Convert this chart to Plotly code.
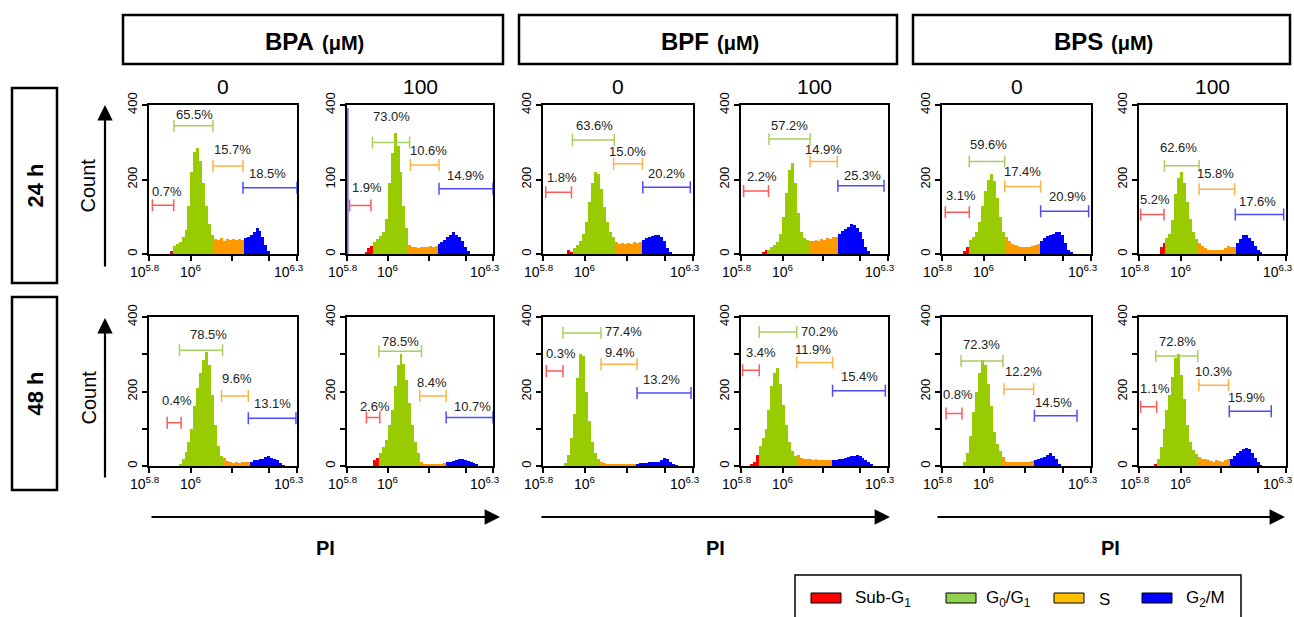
import plotly.graph_objects as go

W, H = 1294, 617
FONT = "Arial, 'Liberation Sans', Helvetica, sans-serif"

# ---------------- data ----------------
COMPOUNDS = ["BPA", "BPF", "BPS"]
DOSES = ["0", "100"]
TIMES = ["24 h", "48 h"]
PHASES = ["Sub-G<sub>1</sub>", "G<sub>0</sub>/G<sub>1</sub>", "S", "G<sub>2</sub>/M"]

# PI channel bins (0-100 display units spanning 10^5.8 .. 10^6.3)
BIN_CENTERS = list(range(1, 100, 2))
X_TICK_VALS = [0, 28.3, 55.9, 81.2, 100]
X_LABEL_VALS = [0, 28.3, 100]
X_LABEL_TEXT = ["10<sup>5.8</sup>", "10<sup>6</sup>", "10<sup>6.3</sup>"]

# histogram counts per bin (50 bins each)
BPA_0_24 = [0,0,0,0,0,0,0,8,22,28, 33,45,65,130,220,275,285,250,190,130,
            80,50,40,38,42,36,40,38,40,37, 40,38,42,45,50,58,70,62,45,25,
            8,0,0,0,0,0,0,0,0,0]
BPA_100_24 = [0,0,0,0,0,0,5,15,22,33, 40,48,60,95,190,270,325,290,220,130,
              70,25,18,20,17,20,18,20,22,18, 22,28,32,38,45,50,58,52,45,35,
              20,8,0,0,0,0,0,0,0,0]
BPF_0_24 = [0,0,0,0,0,0,0,0,10,5, 15,25,35,55,85,140,190,220,215,175,
            125,85,58,45,32,28,30,27,30,28, 32,30,32,38,42,45,48,52,50,45,
            35,15,3,0,0,0,0,0,0,0]
BPF_100_24 = [0,0,0,0,0,0,0,5,12,12, 18,25,32,55,100,165,225,245,190,110,
              60,42,38,35,36,38,35,40,38,42, 40,45,45,55,62,68,72,80,78,70,
              58,40,20,8,0,0,0,0,0,0]
BPS_0_24 = [0,0,0,0,0,0,0,8,20,38, 45,60,85,130,170,200,215,195,150,100,
            60,45,35,28,25,22,20,18,20,18, 22,25,28,35,42,48,52,55,58,60,
            50,30,12,3,0,0,0,0,0,0]
BPS_100_24 = [0,0,0,0,0,0,0,20,30,42, 55,90,160,205,220,190,140,95,60,40,
              30,22,15,12,10,10,10,12,10,15, 22,18,20,30,40,50,52,42,35,22,
              10,3,0,0,0,0,0,0,0,0]
BPA_0_48 = [0,0,0,0,0,0,0,0,0,0, 5,18,38,65,100,160,210,250,285,305,
            270,190,110,55,28,22,14,10,8,10, 8,10,10,10,12,15,16,18,20,25,
            28,22,20,15,8,2,0,0,0,0]
BPA_100_48 = [0,0,0,0,0,0,0,0,0,15, 22,35,50,70,110,150,215,270,300,275,
              230,170,110,65,35,12,5,3,5,5, 6,5,6,8,10,12,14,15,18,20,
              16,14,12,8,3,0,0,0,0,0]
BPF_0_48 = [0,0,0,0,0,0,0,8,30,75, 140,235,300,295,200,120,65,35,20,12,
            8,6,5,4,4,4,5,5,4,5, 5,6,7,8,8,10,10,12,12,15,
            22,18,12,6,2,0,0,0,0,0]
BPF_100_48 = [0,0,0,3,10,30,55,75,100,150, 215,250,262,220,165,110,65,40,28,30,
              22,20,18,18,16,18,16,15,16,15, 15,15,16,18,20,22,24,26,28,30,
              26,22,16,10,6,0,0,0,0,0]
BPS_0_48 = [0,0,0,0,0,0,0,12,35,80, 145,200,250,285,270,220,160,90,58,40,
            25,12,10,12,10,12,10,12,11,12, 14,15,18,22,25,30,36,28,18,6,
            0,0,0,0,0,0,0,0,0,0]
BPS_100_48 = [0,0,0,0,0,4,18,50,100,150, 190,240,290,300,245,180,110,65,42,32,
              25,20,18,15,13,12,15,13,12,15, 18,20,28,35,40,45,48,45,35,22,
              10,2,0,0,0,0,0,0,0,0]

HISTS = {
    ("BPA", "0", "24 h"): BPA_0_24, ("BPA", "100", "24 h"): BPA_100_24,
    ("BPF", "0", "24 h"): BPF_0_24, ("BPF", "100", "24 h"): BPF_100_24,
    ("BPS", "0", "24 h"): BPS_0_24, ("BPS", "100", "24 h"): BPS_100_24,
    ("BPA", "0", "48 h"): BPA_0_48, ("BPA", "100", "48 h"): BPA_100_48,
    ("BPF", "0", "48 h"): BPF_0_48, ("BPF", "100", "48 h"): BPF_100_48,
    ("BPS", "0", "48 h"): BPS_0_48, ("BPS", "100", "48 h"): BPS_100_48,
}

# gates per panel: [Sub-G1, G0/G1, S, G2/M]
GATE_X0 = {
    ("BPA", "0", "24 h"): [2.3, 16.9, 43.2, 63.5], ("BPA", "100", "24 h"): [1.8, 17.4, 43.4, 63.0],
    ("BPF", "0", "24 h"): [1.8, 19.6, 47.1, 66.5], ("BPF", "100", "24 h"): [1.8, 19.0, 47.0, 65.9],
    ("BPS", "0", "24 h"): [2.2, 18.3, 42.1, 66.2], ("BPS", "100", "24 h"): [1.1, 17.3, 40.9, 65.5],
    ("BPA", "0", "48 h"): [12.3, 20.6, 49.0, 67.1], ("BPA", "100", "48 h"): [13.3, 21.8, 49.9, 67.9],
    ("BPF", "0", "48 h"): [2.2, 13.3, 38.7, 62.7], ("BPF", "100", "48 h"): [1.1, 12.4, 37.9, 62.3],
    ("BPS", "0", "48 h"): [2.7, 12.8, 41.6, 62.0], ("BPS", "100", "48 h"): [1.1, 11.4, 40.7, 61.4],
}
GATE_X1 = {
    ("BPA", "0", "24 h"): [16.7, 43.2, 63.5, 100], ("BPA", "100", "24 h"): [16.4, 42.9, 63.0, 100],
    ("BPF", "0", "24 h"): [19.0, 47.5, 66.3, 98.2], ("BPF", "100", "24 h"): [18.7, 47.0, 65.5, 97.3],
    ("BPS", "0", "24 h"): [18.3, 42.1, 66.2, 98.4], ("BPS", "100", "24 h"): [17.0, 40.9, 65.0, 98.4],
    ("BPA", "0", "48 h"): [21.7, 49.7, 67.1, 99.3], ("BPA", "100", "48 h"): [22.5, 51.0, 67.9, 100],
    ("BPF", "0", "48 h"): [13.3, 38.7, 62.7, 98.7], ("BPF", "100", "48 h"): [12.4, 37.9, 62.3, 98.2],
    ("BPS", "0", "48 h"): [13.4, 40.9, 61.5, 90.6], ("BPS", "100", "48 h"): [12.0, 40.0, 60.9, 90.0],
}
GATE_Y = {
    ("BPA", "0", "24 h"): [131, 344, 236, 178], ("BPA", "100", "24 h"): [130, 299, 239, 175],
    ("BPF", "0", "24 h"): [166, 306, 242, 179], ("BPF", "100", "24 h"): [169, 309, 248, 183],
    ("BPS", "0", "24 h"): [112, 248, 181, 115], ("BPS", "100", "24 h"): [106, 237, 174, 106],
    ("BPA", "0", "48 h"): [116, 311, 188, 128], ("BPA", "100", "48 h"): [130, 308, 188, 130],
    ("BPF", "0", "48 h"): [255, 357, 273, 196], ("BPF", "100", "48 h"): [257, 360, 278, 202],
    ("BPS", "0", "48 h"): [141, 282, 206, 135], ("BPS", "100", "48 h"): [159, 295, 217, 147],
}
GATE_PCT = {
    ("BPA", "0", "24 h"): ["0.7%", "65.5%", "15.7%", "18.5%"], ("BPA", "100", "24 h"): ["1.9%", "73.0%", "10.6%", "14.9%"],
    ("BPF", "0", "24 h"): ["1.8%", "63.6%", "15.0%", "20.2%"], ("BPF", "100", "24 h"): ["2.2%", "57.2%", "14.9%", "25.3%"],
    ("BPS", "0", "24 h"): ["3.1%", "59.6%", "17.4%", "20.9%"], ("BPS", "100", "24 h"): ["5.2%", "62.6%", "15.8%", "17.6%"],
    ("BPA", "0", "48 h"): ["0.4%", "78.5%", "9.6%", "13.1%"], ("BPA", "100", "48 h"): ["2.6%", "78.5%", "8.4%", "10.7%"],
    ("BPF", "0", "48 h"): ["0.3%", "77.4%", "9.4%", "13.2%"], ("BPF", "100", "48 h"): ["3.4%", "70.2%", "11.9%", "15.4%"],
    ("BPS", "0", "48 h"): ["0.8%", "72.3%", "12.2%", "14.5%"], ("BPS", "100", "48 h"): ["1.1%", "72.8%", "10.3%", "15.9%"],
}
LABEL_X = {
    ("BPA", "0", "24 h"): [12.2, 30.9, 56.3, 80.4], ("BPA", "100", "24 h"): [13.7, 30.8, 55.9, 81.5],
    ("BPF", "0", "24 h"): [12.7, 34.2, 56.3, 82.6], ("BPF", "100", "24 h"): [14.2, 33.0, 56.4, 82.6],
    ("BPS", "0", "24 h"): [12.8, 30.9, 53.7, 83.9], ("BPS", "100", "24 h"): [10.9, 26.8, 52.3, 80.9],
    ("BPA", "0", "48 h"): [18.8, 40.3, 59.7, 83.7], ("BPA", "100", "48 h"): [18.9, 36.4, 58.2, 85.8],
    ("BPF", "0", "48 h"): [11.7, 53.7, 51.0, 79.1], ("BPF", "100", "48 h"): [13.8, 53.7, 49.2, 80.4],
    ("BPS", "0", "48 h"): [10.7, 26.2, 54.4, 74.9], ("BPS", "100", "48 h"): [10.9, 26.4, 50.7, 73.4],
}
LABEL_Y = {
    ("BPA", "0", "24 h"): [167, 375, 281, 217], ("BPA", "100", "24 h"): [178, 369, 277, 212],
    ("BPF", "0", "24 h"): [205, 346, 275, 215], ("BPF", "100", "24 h"): [208, 346, 281, 212],
    ("BPS", "0", "24 h"): [158, 293, 221, 154], ("BPS", "100", "24 h"): [145, 286, 217, 142],
    ("BPA", "0", "48 h"): [175, 353, 235, 168], ("BPA", "100", "48 h"): [161, 333, 223, 159],
    ("BPF", "0", "48 h"): [302, 362, 304, 232], ("BPF", "100", "48 h"): [304, 362, 313, 241],
    ("BPS", "0", "48 h"): [192, 327, 255, 170], ("BPS", "100", "48 h"): [208, 333, 255, 184],
}
Y_TICK_VALS = {"24 h": [0, 200, 400], "48 h": [0, 100, 200, 300, 400]}
Y_TICK_TEXT = {"24 h": ["0", "200", "400"], "48 h": ["0", "", "200", "", "400"]}
Y_TICK_TEXT_OVERRIDE = {("BPA", "100", "24 h"): ["0", "100", "400"]}

# ---------------- styles ----------------
HIST_COLORS = ["#ff0000", "#99cc00", "#ff9900", "#0000ff"]
GATE_COLORS = ["#ff5a5a", "#a8d060", "#ffb347", "#4d4dff"]
LEGEND_COLORS = ["#ff0000", "#92d050", "#ffc000", "#0000ff"]

COL_LEFT = [149, 347, 543, 741, 942, 1139]
COL_RIGHT = [297, 493, 693, 888, 1091, 1286]
ROW_TOP = [105, 317]
ROW_BOTTOM = [254, 466]
X_LABEL_SHIFT = [-4, 0, -8]


def px(x):
    return x / W


def py(y):
    return 1 - y / H


def paper_text(x, y, text, size, angle=0, xanchor="center", bold=False):
    return dict(x=px(x), y=py(y), xref="paper", yref="paper",
                text=f"<b>{text}</b>" if bold else text, textangle=angle,
                showarrow=False, xanchor=xanchor, yanchor="middle",
                font=dict(size=size, color="black", family=FONT))


fig = go.Figure()
layout = {}
annotations = []
shapes = []

idx = 0
for r, t in enumerate(TIMES):
    for c in range(6):
        idx += 1
        comp = COMPOUNDS[c // 2]
        dose = DOSES[c % 2]
        key = (comp, dose, t)
        sfx = "" if idx == 1 else str(idx)
        xa, ya = "x" + sfx, "y" + sfx

        x0s, x1s = GATE_X0[key], GATE_X1[key]
        colors = []
        for cx in BIN_CENTERS:
            if cx < x0s[1]:
                colors.append(HIST_COLORS[0])
            elif cx < x1s[1]:
                colors.append(HIST_COLORS[1])
            elif cx < x0s[3]:
                colors.append(HIST_COLORS[2])
            else:
                colors.append(HIST_COLORS[3])
        fig.add_trace(go.Bar(x=BIN_CENTERS, y=HISTS[key], width=2,
                             marker=dict(color=colors, line=dict(width=0)),
                             xaxis=xa, yaxis=ya, showlegend=False, hoverinfo="skip"))

        for g in range(4):
            xc = (x0s[g] + x1s[g]) / 2
            fig.add_trace(go.Scatter(
                x=[xc], y=[GATE_Y[key][g]], mode="markers",
                marker=dict(size=1, color="rgba(0,0,0,0)"),
                error_x=dict(type="data", array=[(x1s[g] - x0s[g]) / 2], symmetric=True,
                             color=GATE_COLORS[g], thickness=1.5, width=6),
                cliponaxis=False, xaxis=xa, yaxis=ya, showlegend=False, hoverinfo="skip"))
            annotations.append(dict(x=LABEL_X[key][g], y=LABEL_Y[key][g], xref=xa, yref=ya,
                                    text=GATE_PCT[key][g], showarrow=False,
                                    xanchor="center", yanchor="middle",
                                    font=dict(size=13, color="#222222", family=FONT)))

        # x tick labels (placed like the original, ends pulled inward)
        for j, xv in enumerate(X_LABEL_VALS):
            annotations.append(dict(x=xv, y=0, xref=xa, yref=ya, yshift=-17,
                                    xshift=X_LABEL_SHIFT[j], text=X_LABEL_TEXT[j],
                                    showarrow=False, xanchor="center", yanchor="middle",
                                    font=dict(size=14, color="black", family=FONT)))

        # stray acquisition trace along the left edge of the BPA 100 / 24 h panel
        if key == ("BPA", "100", "24 h"):
            shapes.append(dict(type="line", xref=xa, yref=ya, x0=0.6, x1=0.6, y0=0, y1=392,
                               line=dict(color="#3a3aff", width=1.2)))

        ytext = Y_TICK_TEXT_OVERRIDE.get(key, Y_TICK_TEXT[t])
        layout["xaxis" + sfx] = dict(
            domain=[px(COL_LEFT[c]), px(COL_RIGHT[c])], anchor=ya, range=[0, 100],
            showline=True, linecolor="black", linewidth=2, mirror=True,
            ticks="outside", ticklen=5, tickwidth=2, tickcolor="black",
            tickmode="array", tickvals=X_TICK_VALS, ticktext=[""] * len(X_TICK_VALS),
            showgrid=False, zeroline=False, fixedrange=True, automargin=False)
        layout["yaxis" + sfx] = dict(
            domain=[py(ROW_BOTTOM[r]), py(ROW_TOP[r])], anchor=xa, range=[0, 400],
            showline=True, linecolor="black", linewidth=2, mirror=True,
            ticks="outside", ticklen=5, tickwidth=2, tickcolor="black",
            tickmode="array", tickvals=Y_TICK_VALS[t], ticktext=ytext, tickangle=-90,
            tickfont=dict(size=13, color="black", family=FONT),
            showgrid=False, zeroline=False, fixedrange=True, automargin=False)

# header boxes
HEADER_BOX = [(123, 503), (519, 897), (913, 1290)]
for i, comp in enumerate(COMPOUNDS):
    bx0, bx1 = HEADER_BOX[i]
    cx = (bx0 + bx1) / 2
    shapes.append(dict(type="rect", xref="paper", yref="paper", x0=px(bx0), x1=px(bx1),
                       y0=py(64), y1=py(15), line=dict(color="black", width=2.5)))
    annotations.append(paper_text(cx + 3, 42, comp, 24, xanchor="right", bold=True))
    annotations.append(paper_text(cx + 7, 43, "(μM)", 20, xanchor="left", bold=True))

# dose labels
for c in range(6):
    annotations.append(paper_text((COL_LEFT[c] + COL_RIGHT[c]) / 2, 86, DOSES[c % 2], 21))

# row boxes & count arrows
ROW_BOX = [(88, 283), (297, 490)]
ARROW_Y = [(105, 268), (318, 479)]
for r, t in enumerate(TIMES):
    by0, by1 = ROW_BOX[r]
    shapes.append(dict(type="rect", xref="paper", yref="paper", x0=px(12), x1=px(57),
                       y0=py(by1), y1=py(by0), line=dict(color="black", width=2.5)))
    annotations.append(paper_text(35, (by0 + by1) / 2, t, 22, angle=-90, bold=True))
    ty, tb = ARROW_Y[r]
    annotations.append(dict(x=px(105), y=py(ty), xref="paper", yref="paper", text="",
                            showarrow=True, ax=0, ay=tb - ty,
                            arrowhead=2, arrowsize=1.4, arrowwidth=2.2, arrowcolor="black"))
    annotations.append(paper_text(88, (ROW_TOP[r] + ROW_BOTTOM[r]) / 2 + 6, "Count", 20, angle=-90))

# PI arrows
PI_ARROW = [(150, 500), (540, 890), (936, 1285)]
for i in range(3):
    a0, a1 = PI_ARROW[i]
    annotations.append(dict(x=px(a1), y=py(517), xref="paper", yref="paper", text="",
                            showarrow=True, ax=-(a1 - a0), ay=0,
                            arrowhead=2, arrowsize=1.4, arrowwidth=2.2, arrowcolor="black"))
    annotations.append(paper_text((a0 + a1) / 2, 548, "PI", 20, bold=True))

# legend box
shapes.append(dict(type="rect", xref="paper", yref="paper", x0=px(795), x1=px(1241),
                   y0=py(640), y1=py(575), line=dict(color="black", width=1.5)))
SWATCH_X = [811, 946, 1054, 1142]
TEXT_X = [853, 984, 1097, 1184]
for i in range(4):
    shapes.append(dict(type="rect", xref="paper", yref="paper", x0=px(SWATCH_X[i]), x1=px(SWATCH_X[i] + 30),
                       y0=py(603), y1=py(593), fillcolor=LEGEND_COLORS[i],
                       line=dict(color="black", width=1)))
    annotations.append(paper_text(TEXT_X[i], 599, PHASES[i], 17, xanchor="left"))

fig.update_layout(
    width=W, height=H, margin=dict(l=0, r=0, t=0, b=0, pad=0, autoexpand=False),
    paper_bgcolor="white", plot_bgcolor="white",
    bargap=0, showlegend=False,
    font=dict(family=FONT, color="black"),
    annotations=annotations, shapes=shapes, **layout)

fig.write_html("out.html", config={"displayModeBar": False},
               post_script="document.body.style.margin='0px';")
